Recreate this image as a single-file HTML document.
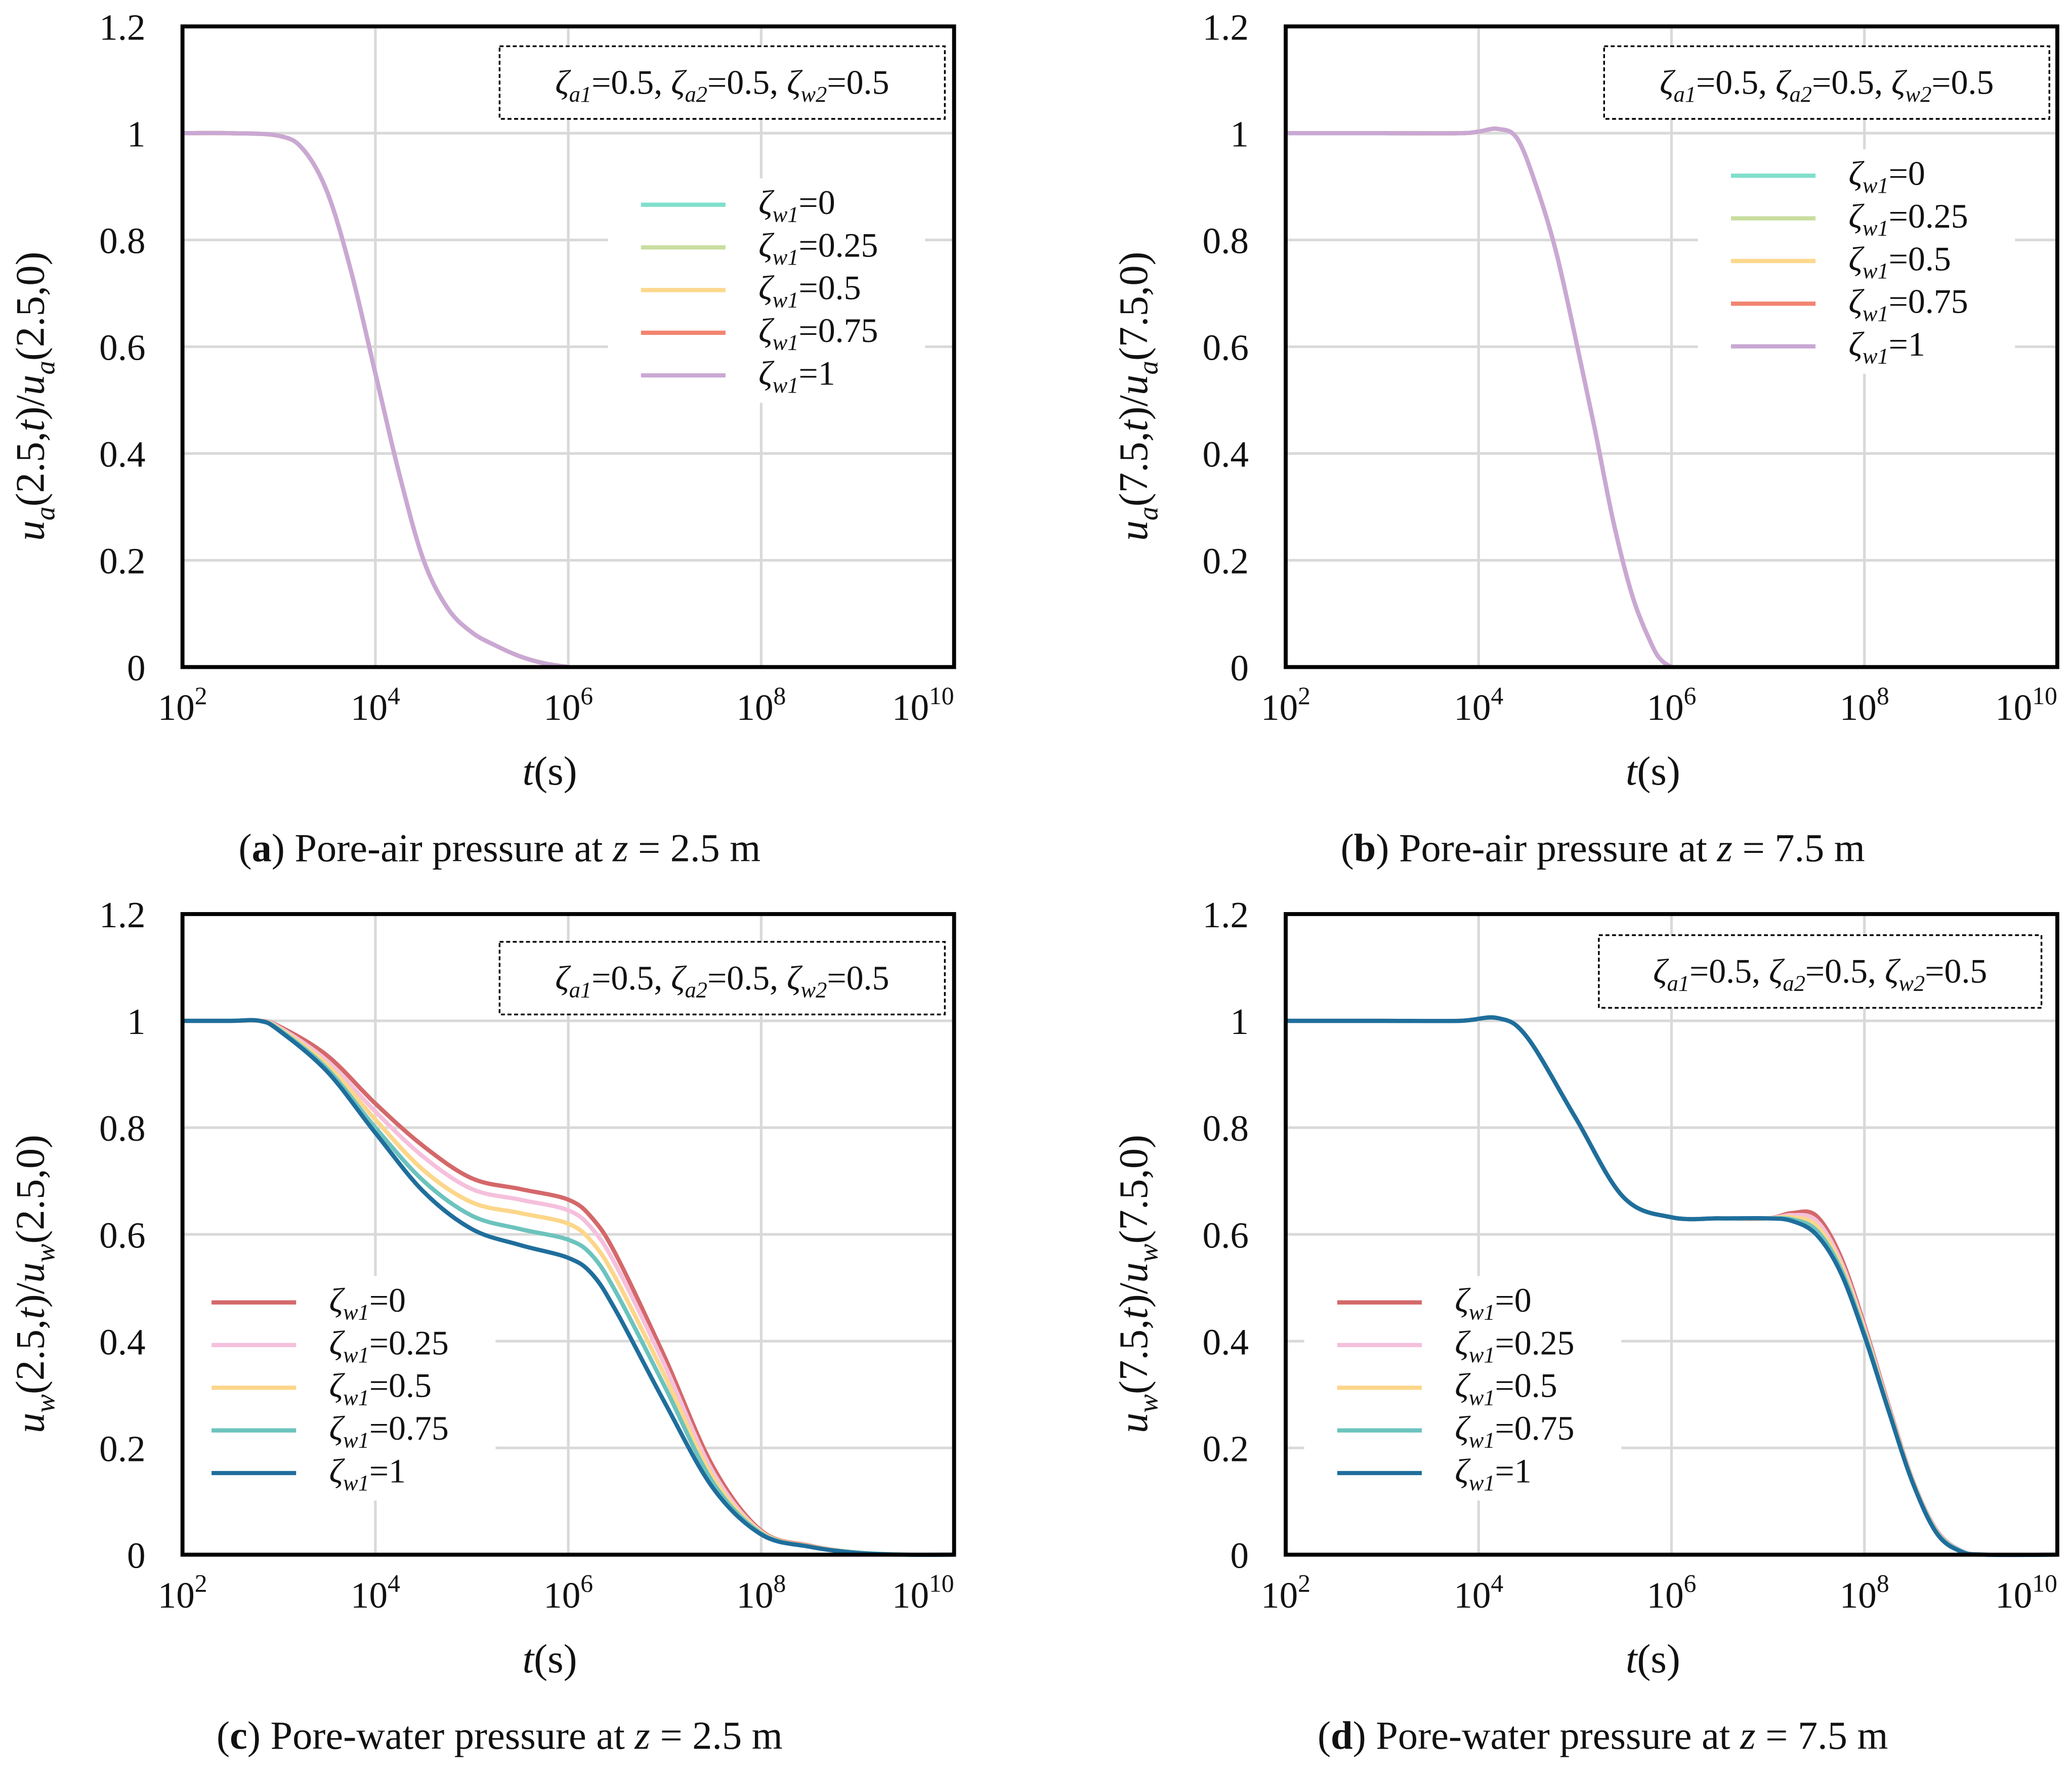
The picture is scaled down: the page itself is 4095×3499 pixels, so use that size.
<!DOCTYPE html>
<html><head><meta charset="utf-8">
<style>
html,body{margin:0;padding:0;background:#fff;}
svg{display:block;}
text{font-family:"Liberation Serif",serif;fill:#111;}
</style></head>
<body>
<svg id="fig" width="4095" height="3499" viewBox="0 0 1568 1340" xmlns="http://www.w3.org/2000/svg"></svg>
<script>
// ---- data ----
const logT_a = [2, 2.5, 3, 3.25, 3.5, 3.75, 4, 4.25, 4.5, 4.75, 5, 5.25, 5.5, 5.75, 6];
const ua_a   = [1, 1, 0.995, 0.97, 0.89, 0.74, 0.55, 0.36, 0.2, 0.11, 0.065, 0.04, 0.02, 0.007, 0];
const logT_b = [2, 3, 3.8, 4, 4.2, 4.4, 4.6, 4.8, 5, 5.2, 5.4, 5.6, 5.8, 5.9, 6];
const ua_b   = [1, 1, 1, 1.003, 1.008, 0.99, 0.9, 0.78, 0.62, 0.45, 0.27, 0.13, 0.04, 0.012, 0];
const logT_c = [2, 2.5, 2.8, 3, 3.5, 4, 4.5, 5, 5.5, 6, 6.25, 6.5, 7, 7.5, 8, 8.5, 9, 9.5, 10];
const uw_c0   = [1, 1, 1, 0.99, 0.935, 0.845, 0.765, 0.705, 0.685, 0.665, 0.63, 0.56, 0.37, 0.165, 0.045, 0.017, 0.004, 0, 0];
const uw_c25  = [1, 1, 1, 0.988, 0.925, 0.83, 0.745, 0.685, 0.665, 0.645, 0.61, 0.54, 0.355, 0.155, 0.043, 0.016, 0.004, 0, 0];
const uw_c50  = [1, 1, 1, 0.986, 0.918, 0.815, 0.72, 0.66, 0.64, 0.62, 0.585, 0.515, 0.335, 0.145, 0.042, 0.016, 0.004, 0, 0];
const uw_c75  = [1, 1, 1, 0.984, 0.91, 0.8, 0.7, 0.635, 0.61, 0.59, 0.56, 0.49, 0.315, 0.135, 0.04, 0.015, 0.004, 0, 0];
const uw_c100 = [1, 1, 1, 0.982, 0.905, 0.79, 0.68, 0.61, 0.58, 0.556, 0.525, 0.455, 0.285, 0.125, 0.038, 0.015, 0.003, 0, 0];
const logT_d = [2, 3, 3.8, 4.2, 4.5, 5, 5.5, 6, 6.5, 7, 7.25, 7.5, 7.75, 8, 8.25, 8.5, 8.75, 9, 9.25, 10];
const uw_d0   = [1, 1, 1, 1.005, 0.97, 0.82, 0.67, 0.632, 0.63, 0.63, 0.64, 0.635, 0.56, 0.43, 0.28, 0.14, 0.045, 0.008, 0, 0];
const uw_d25  = [1, 1, 1, 1.005, 0.97, 0.82, 0.67, 0.632, 0.63, 0.63, 0.636, 0.626, 0.552, 0.425, 0.277, 0.139, 0.044, 0.008, 0, 0];
const uw_d50  = [1, 1, 1, 1.005, 0.97, 0.82, 0.67, 0.632, 0.63, 0.63, 0.632, 0.617, 0.545, 0.42, 0.275, 0.138, 0.043, 0.007, 0, 0];
const uw_d75  = [1, 1, 1, 1.005, 0.97, 0.82, 0.67, 0.632, 0.63, 0.63, 0.628, 0.608, 0.537, 0.415, 0.272, 0.136, 0.042, 0.007, 0, 0];
const uw_d100 = [1, 1, 1, 1.005, 0.97, 0.82, 0.67, 0.632, 0.63, 0.63, 0.625, 0.6, 0.53, 0.41, 0.27, 0.135, 0.04, 0.006, 0, 0];
const legendLabels = ["0", "0.25", "0.5", "0.75", "1"];
const yTicks = [0, 0.2, 0.4, 0.6, 0.8, 1, 1.2];
const yTickLabels = ["0", "0.2", "0.4", "0.6", "0.8", "1", "1.2"];
const xTickExps = [2, 4, 6, 8, 10];

const NS = "http://www.w3.org/2000/svg";
const svg = document.getElementById('fig');
function mk(tag, attrs, parent) {
  const e = document.createElementNS(NS, tag);
  for (const k in attrs) e.setAttribute(k, attrs[k]);
  (parent || svg).appendChild(e);
  return e;
}
function catmull(pts) {
  let d = `M${pts[0][0]},${pts[0][1]}`;
  for (let i = 0; i < pts.length - 1; i++) {
    const p0 = pts[i - 1] || pts[i], p1 = pts[i], p2 = pts[i + 1], p3 = pts[i + 2] || p2;
    const c1 = [p1[0] + (p2[0] - p0[0]) / 6, p1[1] + (p2[1] - p0[1]) / 6];
    const c2 = [p2[0] - (p3[0] - p1[0]) / 6, p2[1] - (p3[1] - p1[1]) / 6];
    d += ` C${c1[0]},${c1[1]} ${c2[0]},${c2[1]} ${p2[0]},${p2[1]}`;
  }
  return d;
}
function zeta(g, x, y, val, name) {
  const t = mk('text', {x: x, y: y, 'font-size': 26}, g);
  
  
  t.innerHTML = `<tspan font-style="italic">ζ</tspan><tspan font-style="italic" font-size="17" dy="6">w1</tspan><tspan dy="-6">=${val}</tspan>`;
}

function panel(opt) {
  const g = mk('g', {});
  
  
  const L = opt.x0, R = opt.x0 + 584, T = opt.y0, B = opt.y0 + 485;
  const xs = lt => L + (lt - 2) * 73;
  const ys = v => B - v / 1.2 * 485;
  const grid = mk('g', {stroke: '#d9d9d9', 'stroke-width': 2}, g);
  
  
  [4, 6, 8].forEach(e => mk('line', {x1: xs(e), x2: xs(e), y1: T, y2: B}, grid));
  yTicks.slice(1, 6).forEach(v => mk('line', {x1: L, x2: R, y1: ys(v), y2: ys(v)}, grid));
  mk('rect', {x: opt.leg.x - 25, y: opt.leg.y - 20, width: 240, height: 170, fill: '#fff'}, g);
  opt.series.forEach((s, i) => {
    const p = mk('path', {d: catmull(opt.lt.map((lt, j) => [xs(lt), ys(s[j])])), fill: 'none', stroke: opt.colors[i], 'stroke-width': 3.2, 'stroke-linejoin': 'round'}, g);
    
    
  });
  const fr = mk('rect', {x: L, y: T, width: 584, height: 485, fill: 'none', stroke: '#000', 'stroke-width': 3}, g);
  
  
  yTicks.forEach((v, i) => {
    const t = mk('text', {x: opt.x0 - 28, y: ys(v) + 10, 'font-size': 28, 'text-anchor': 'end'}, g);
    t.textContent = yTickLabels[i];
    
    
  });
  xTickExps.forEach((e, i) => {
    const last = i === xTickExps.length - 1;
    const t = mk('text', {x: last ? R : xs(e), y: B + 40, 'font-size': 28, 'text-anchor': last ? 'end' : 'middle'}, g);
    t.innerHTML = `10<tspan font-size="19" dy="-12">${e}</tspan>`;
    
    
  });
  const xt = mk('text', {x: L + 278, y: B + 89, 'font-size': 31, 'text-anchor': 'middle'}, g);
  xt.innerHTML = '<tspan font-style="italic">t</tspan>(s)';
  
  
  const yt = mk('text', {x: 0, y: 0, 'font-size': 31, 'text-anchor': 'middle', transform: `translate(${opt.x0 - 105},${T + 280}) rotate(-90)`}, g);
  yt.innerHTML = `<tspan font-style="italic">u</tspan><tspan font-style="italic" font-size="21" dy="8">${opt.sub}</tspan><tspan dy="-8">(${opt.z},</tspan><tspan font-style="italic">t</tspan>)/<tspan font-style="italic">u</tspan><tspan font-style="italic" font-size="21" dy="8">${opt.sub}</tspan><tspan dy="-8">(${opt.z},0)</tspan>`;
  
  
  const pb = opt.pbox;
  mk('rect', {x: pb.x, y: pb.y, width: pb.w, height: 55, fill: '#fff', stroke: '#000', 'stroke-width': 1.3, 'stroke-dasharray': '3,2'}, g);
  const pt = mk('text', {x: pb.x + pb.w / 2, y: pb.y + 36, 'font-size': 26, 'text-anchor': 'middle'}, g);
  pt.innerHTML = '<tspan font-style="italic">ζ</tspan><tspan font-style="italic" font-size="17" dy="6">a1</tspan><tspan dy="-6">=0.5, </tspan><tspan font-style="italic">ζ</tspan><tspan font-style="italic" font-size="17" dy="6">a2</tspan><tspan dy="-6">=0.5, </tspan><tspan font-style="italic">ζ</tspan><tspan font-style="italic" font-size="17" dy="6">w2</tspan><tspan dy="-6">=0.5</tspan>';
  
  
  const lg = mk('g', {}, g);
  
  
  legendLabels.forEach((lab, i) => {
    const y = opt.leg.y + i * 32.3;
    const ln = mk('line', {x1: opt.leg.x, x2: opt.leg.x + 64, y1: y, y2: y, stroke: opt.colors[i], 'stroke-width': 3.2}, lg);
    
    
    zeta(lg, opt.leg.x + 89, y + 7, lab, 'legend-entry-label');
  });
  const cp = mk('text', {x: L + 240, y: B + 147, 'font-size': 30, 'text-anchor': 'middle'}, g);
  cp.innerHTML = `(<tspan font-weight="bold">${opt.letter}</tspan>) ${opt.cap} at <tspan font-style="italic">z</tspan> = ${opt.z} m`;
  
  
}

const colAB = ['#7fdfcc', '#c8de9e', '#fcd88c', '#f2846f', '#c9a8d4'];
const colCD = ['#d4686a', '#f5c0dc', '#fcd68a', '#6cc3bd', '#1f6e9c'];
panel({name: 'panel-a', x0: 138, y0: 20, lt: logT_a, series: [ua_a, ua_a, ua_a, ua_a, ua_a], colors: colAB, sub: 'a', z: '2.5', letter: 'a', cap: 'Pore-air pressure', pbox: {x: 378, y: 35, w: 337}, leg: {x: 485, y: 155}});
panel({name: 'panel-b', x0: 973, y0: 20, lt: logT_b, series: [ua_b, ua_b, ua_b, ua_b, ua_b], colors: colAB, sub: 'a', z: '7.5', letter: 'b', cap: 'Pore-air pressure', pbox: {x: 1214, y: 35, w: 337}, leg: {x: 1310, y: 133}});
panel({name: 'panel-c', x0: 138, y0: 692, lt: logT_c, series: [uw_c0, uw_c25, uw_c50, uw_c75, uw_c100], colors: colCD, sub: 'w', z: '2.5', letter: 'c', cap: 'Pore-water pressure', pbox: {x: 378, y: 713, w: 337}, leg: {x: 160, y: 986}});
panel({name: 'panel-d', x0: 973, y0: 692, lt: logT_d, series: [uw_d0, uw_d25, uw_d50, uw_d75, uw_d100], colors: colCD, sub: 'w', z: '7.5', letter: 'd', cap: 'Pore-water pressure', pbox: {x: 1210, y: 708, w: 335}, leg: {x: 1012, y: 986}});
</script>
</body></html>
